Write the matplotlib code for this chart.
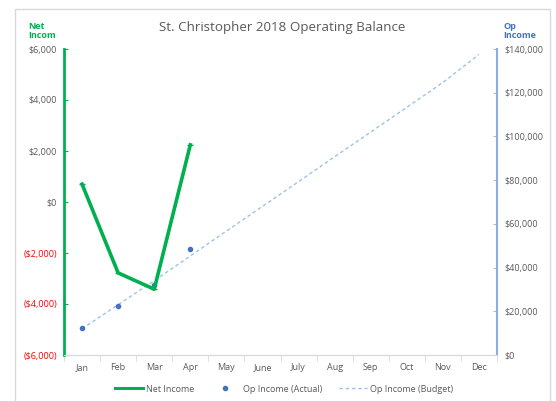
import matplotlib
matplotlib.use("Agg")
import matplotlib.pyplot as plt
from matplotlib.patches import Rectangle
from matplotlib.lines import Line2D

plt.rcParams['font.family'] = ['Open Sans', 'DejaVu Sans']

months = ['Jan', 'Feb', 'Mar', 'Apr', 'May', 'June', 'July', 'Aug', 'Sep', 'Oct', 'Nov', 'Dec']
net_income = [700, -2780, -3420, 2240]
op_actual = [12200, 22400, 31900, 48500]
op_budget = [12000, 23000, 34000, 45300, 56700, 68000, 79300, 90700, 102000, 113300, 124700, 137500]

left_ticks = [-6000, -4000, -2000, 0, 2000, 4000, 6000]
right_ticks = [0, 20000, 40000, 60000, 80000, 100000, 120000, 140000]

GREEN = '#00B050'
BLUE = '#4472C4'
LBLUE = '#9DC3E6'
GRAY = '#595959'


def money(v):
    if v < 0:
        return f'(${-v:,.0f})'
    return f'${v:,.0f}'


fig = plt.figure(figsize=(5.56, 4.01), dpi=100)
fig.patches.append(Rectangle((15 / 556, -0.05), 535 / 556, 1.05 - 9 / 401,
                             transform=fig.transFigure, fill=False,
                             edgecolor='#D9D9D9', linewidth=1))

ax = fig.add_axes([64 / 556, 46 / 401, 433 / 556, 306 / 401])
ax2 = ax.twinx()

x = list(range(len(months)))
ax2.plot(x, op_budget, color=LBLUE, linestyle=(0, (2.5, 2)), linewidth=1)
ax2.plot(x[:len(op_actual)], op_actual, 'o', color=BLUE, markersize=3)
ax.plot(x[:len(net_income)], net_income, color=GREEN, linewidth=2.6,
        marker='_', markersize=4)
ax.set_zorder(ax2.get_zorder() + 1)
ax.patch.set_visible(False)

ax.set_xlim(-0.5, 11.5)
ax.set_ylim(-6000, 6000)
ax2.set_ylim(0, 140000)
ax.set_yticks(left_ticks)
ax.set_yticklabels([money(v) for v in left_ticks], fontsize=6.5)
for lbl, v in zip(ax.get_yticklabels(), left_ticks):
    lbl.set_color('#FF0000' if v < 0 else GRAY)
ax2.set_yticks(right_ticks)
ax2.set_yticklabels([money(v) for v in right_ticks], fontsize=6.5, color=GRAY)

ax.set_xticks(x)
ax.set_xticklabels(months, fontsize=6.5, color=GRAY)
ax.set_xticks([i + 0.5 for i in range(-1, 12)], minor=True)
ax.tick_params(axis='x', which='major', length=0, pad=6)
ax.tick_params(axis='x', which='minor', length=4, color='#D9D9D9', direction='out')
ax.tick_params(axis='y', length=3, color=GREEN, direction='in', pad=5)
ax2.tick_params(axis='y', length=3, color=LBLUE, direction='in', pad=5)

for a in (ax, ax2):
    a.spines['top'].set_visible(False)
    a.spines['bottom'].set_color('#D9D9D9')
ax.spines['right'].set_visible(False)
ax.spines['left'].set_color(GREEN)
ax.spines['left'].set_linewidth(2)
ax2.spines['left'].set_visible(False)
ax2.spines['right'].set_color('#8FAADC')
ax2.spines['right'].set_linewidth(1.5)

fig.text(282 / 556, 1 - 27 / 401, 'St. Christopher 2018 Operating Balance',
         ha='center', va='center', fontsize=9.6, color=GRAY)
fig.text(28 / 556, 1 - 31 / 401, 'Net\nIncom', ha='left', va='center',
         fontsize=6.5, color=GREEN, fontweight='bold', linespacing=0.95)
fig.text(503 / 556, 1 - 31 / 401, 'Op\nIncome', ha='left', va='center',
         fontsize=6.5, color=BLUE, fontweight='bold', linespacing=0.95)

handles = [
    Line2D([], [], color=GREEN, linewidth=2.2, marker='_', markersize=4),
    Line2D([], [], color=BLUE, marker='o', linestyle='none', markersize=3),
    Line2D([], [], color=LBLUE, linestyle=(0, (2.5, 2)), linewidth=1),
]
fig.legend(handles, ['Net Income', 'Op Income (Actual)', 'Op Income (Budget)'],
           loc='center', bbox_to_anchor=(284 / 556, 1 - 389 / 401), ncol=3,
           frameon=False, fontsize=6.5, labelcolor=GRAY, columnspacing=1.9,
           handlelength=3.1, handletextpad=0.35)

fig.savefig('out.png', dpi=100)
